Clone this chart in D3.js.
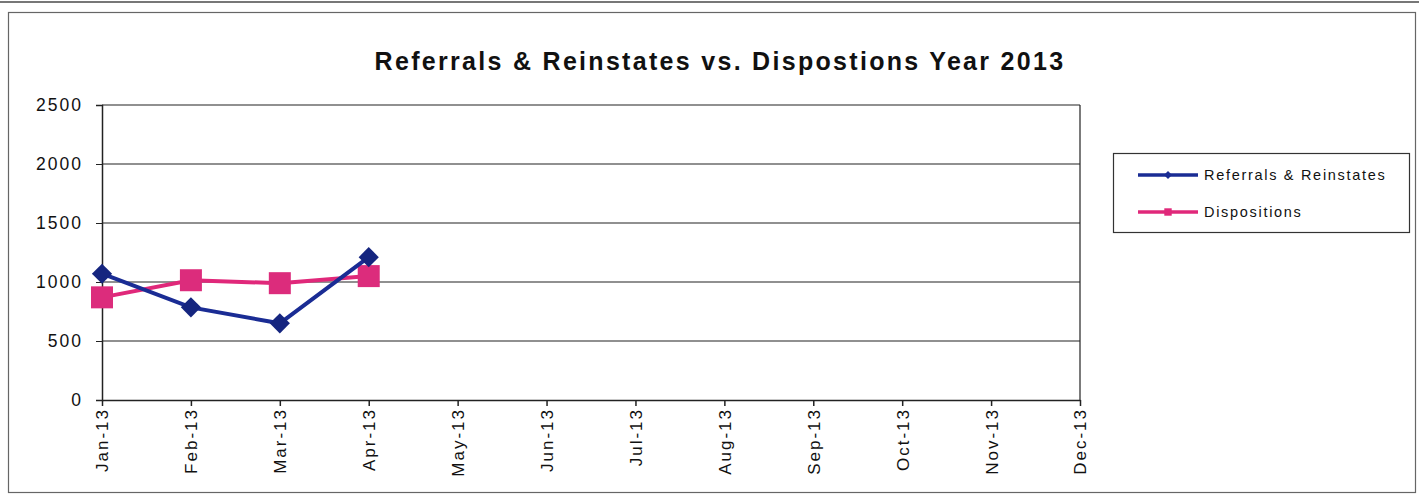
<!DOCTYPE html>
<html>
<head>
<meta charset="utf-8">
<script src="https://cdn.jsdelivr.net/npm/d3@7"></script>
<style>
body { margin: 0; background: #fff; }
text { font-family: Arial, "Liberation Sans", sans-serif; }
</style>
</head>
<body>
<script>
// chart data
var months = ['Jan-13','Feb-13','Mar-13','Apr-13','May-13','Jun-13','Jul-13','Aug-13','Sep-13','Oct-13','Nov-13','Dec-13'];
var referrals = [1070, 785, 650, 1210];
var dispositions = [870, 1015, 990, 1050];
var yTicks = [0, 500, 1000, 1500, 2000, 2500];
var seriesNames = ['Referrals & Reinstates', 'Dispositions'];

var W = 1419, H = 497;
var svg = d3.select('body').append('svg')
    .attr('width', W)
    .attr('height', H);

// outer frame
svg.append('line').attr('x1', 0).attr('x2', W).attr('y1', 2).attr('y2', 2)
    .attr('stroke', '#777').attr('stroke-width', 2);
svg.append('rect')
    .attr('x', 8.5).attr('y', 12.5)
    .attr('width', 1407).attr('height', 480)
    .attr('fill', 'none').attr('stroke', '#666').attr('stroke-width', 1.2);

var pL = 102, pR = 1080, pT = 105, pB = 400;

var x = d3.scalePoint().domain(months).range([pL, pR]);
var y = d3.scaleLinear().domain([0, 2500]).range([pB, pT]);

// title
svg.append('text')
    .attr('x', 720).attr('y', 70)
    .attr('text-anchor', 'middle')
    .style('font-size', '25px').style('font-weight', 'bold')
    .style('letter-spacing', '2.3px')
    .attr('fill', '#111')
    .text('Referrals & Reinstates vs. Dispostions Year 2013');

// gridlines
svg.append('g').selectAll('line')
    .data(yTicks.slice(1))
    .enter().append('line')
    .attr('x1', pL).attr('x2', pR)
    .attr('y1', function(d){ return y(d); })
    .attr('y2', function(d){ return y(d); })
    .attr('stroke', '#222').attr('stroke-width', 1.2);

// right border of plot
svg.append('line').attr('x1', pR).attr('x2', pR).attr('y1', pT).attr('y2', pB)
    .attr('stroke', '#222').attr('stroke-width', 1.2);

// y axis
var yAxis = svg.append('g')
    .attr('transform', 'translate(' + pL + ',0)')
    .call(d3.axisLeft(y).tickValues(yTicks).tickFormat(d3.format('d')).tickSize(6).tickPadding(13));
yAxis.select('.domain').attr('stroke', '#222').attr('stroke-width', 1.5);
yAxis.selectAll('.tick line').attr('stroke', '#222');
yAxis.selectAll('text').style('font-size', '17.5px').style('letter-spacing', '2px').attr('fill', '#111');

// x axis
var xAxis = svg.append('g')
    .attr('transform', 'translate(0,' + pB + ')')
    .call(d3.axisBottom(x).tickSize(6).tickSizeOuter(0));
xAxis.select('.domain').attr('stroke', '#222').attr('stroke-width', 1.5);
xAxis.selectAll('.tick line').attr('stroke', '#222').attr('stroke-width', 1.5);
xAxis.selectAll('text')
    .style('font-size', '17px').style('letter-spacing', '2px').attr('fill', '#111')
    .attr('text-anchor', 'end')
    .attr('transform', 'rotate(-90)')
    .attr('x', -8).attr('y', 0).attr('dy', '0.35em');

var line = d3.line()
    .x(function(d, i){ return x(months[i]); })
    .y(function(d){ return y(d); });

// Dispositions (pink squares)
svg.append('path').datum(dispositions)
    .attr('d', line).attr('fill', 'none')
    .attr('stroke', '#e0287a').attr('stroke-width', 4);
svg.append('g').selectAll('rect')
    .data(dispositions).enter().append('rect')
    .attr('x', function(d, i){ return x(months[i]) - 11; })
    .attr('y', function(d){ return y(d) - 11; })
    .attr('width', 22).attr('height', 22)
    .attr('fill', '#dc2c7c');

// Referrals (blue diamonds)
svg.append('path').datum(referrals)
    .attr('d', line).attr('fill', 'none')
    .attr('stroke', '#1a2c94').attr('stroke-width', 4);
svg.append('g').selectAll('path.dm')
    .data(referrals).enter().append('path')
    .attr('class', 'dm')
    .attr('d', d3.symbol().type(d3.symbolDiamond2).size(260))
    .attr('transform', function(d, i){ return 'translate(' + x(months[i]) + ',' + y(d) + ')'; })
    .attr('fill', '#15257f');

// legend
var lg = svg.append('g').attr('transform', 'translate(1113,153)');
lg.append('rect').attr('x', 0.5).attr('y', 0.5).attr('width', 296).attr('height', 79)
    .attr('fill', '#fff').attr('stroke', '#333').attr('stroke-width', 1.2);
var lgColors = ['#1a2c94', '#e0287a'];
var items = lg.selectAll('g.item').data(seriesNames).enter().append('g')
    .attr('class', 'item')
    .attr('transform', function(d, i){ return 'translate(0,' + (22 + i * 37) + ')'; });
items.append('line').attr('x1', 25).attr('x2', 85)
    .attr('stroke', function(d, i){ return lgColors[i]; }).attr('stroke-width', 3.5);
items.append('path')
    .attr('d', function(d, i){
        return d3.symbol().type(i === 0 ? d3.symbolDiamond2 : d3.symbolSquare2).size(i === 0 ? 40 : 70)();
    })
    .attr('transform', 'translate(55,0)')
    .attr('fill', function(d, i){ return lgColors[i]; });
items.append('text').attr('x', 91).attr('dy', '0.35em')
    .style('font-size', '14.5px').style('letter-spacing', '1.7px').attr('fill', '#111')
    .text(function(d){ return d; });
</script>
</body>
</html>
